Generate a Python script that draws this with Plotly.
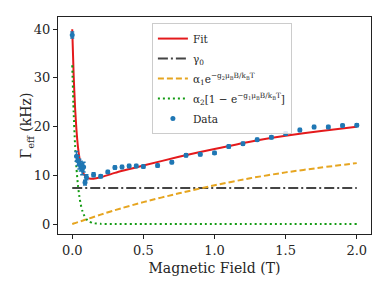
import plotly.graph_objects as go

# Data points
field_data = [0, 0.03, 0.04, 0.05, 0.06, 0.07, 0.08, 0.09, 0.1, 0.15, 0.2, 0.25, 0.3, 0.35, 0.4,
              0.45, 0.5, 0.6, 0.7, 0.8, 0.9, 1.0, 1.1, 1.2, 1.3, 1.4, 1.5, 1.6, 1.7, 1.8, 1.9, 2.0]
gamma_data = [38.8, 13.9, 13.0, 12.3, 11.9, 11.3, 11.7, 8.5, 9.6, 10.1, 9.8, 10.7, 11.6, 11.7, 11.9,
              11.9, 11.8, 12.0, 12.7, 14.1, 14.3, 14.6, 15.9, 16.5, 17.3, 17.8, 18.6, 19.3, 19.9, 19.9, 20.2, 20.3]
gamma_err = [0.6, 1.0, 1.0, 1.0, 1.0, 1.2, 1.0, 0.5, 0.5, 0.4, 0.3, 0.3, 0.3, 0.3, 0.3,
             0.3, 0.3, 0.3, 0.3, 0.3, 0.3, 0.3, 0.3, 0.3, 0.3, 0.3, 0.3, 0.3, 0.3, 0.3, 0.3, 0.3]

# Curves
curve_x = [0, 0.01, 0.02, 0.03, 0.04, 0.05, 0.06, 0.07, 0.08, 0.1, 0.12, 0.15, 0.2, 0.3,
           0.5, 0.75, 1.0, 1.25, 1.5, 1.75, 2.0]
fit_y = [40.0, 30.6, 23.9, 19.2, 15.9, 13.7, 12.1, 11.0, 10.3, 9.55, 9.35, 9.3, 9.6, 10.5,
         12.0, 13.8, 15.4, 16.9, 18.1, 19.1, 19.95]
alpha1_y = [0, 0.1, 0.19, 0.29, 0.38, 0.48, 0.58, 0.67, 0.77, 0.96, 1.15, 1.44, 1.92, 2.85,
            4.5, 6.3, 7.95, 9.4, 10.6, 11.6, 12.5]
alpha2_y = [32.6, 23.0, 16.2, 11.4, 8.0, 5.7, 4.0, 2.8, 2.0, 1.0, 0.5, 0.17, 0.03, 0,
            0, 0, 0, 0, 0, 0, 0]
gamma0_x = [0, 2.0]
gamma0_y = [7.4, 7.4]

x_ticks = [0.0, 0.5, 1.0, 1.5, 2.0]
x_ticklabels = ["0.0", "0.5", "1.0", "1.5", "2.0"]
y_ticks = [0, 10, 20, 30, 40]

FONT = "'DejaVu Serif', 'Liberation Serif', serif"
TXT = "#262626"

fig = go.Figure()
fig.add_trace(go.Scatter(x=curve_x, y=fit_y, mode="lines", name="Fit", legendgroup="a",
                         line=dict(color="#e41a1c", width=2, shape="spline", smoothing=0.6)))
fig.add_trace(go.Scatter(x=gamma0_x, y=gamma0_y, mode="lines", name="γ<sub>0</sub>", legendgroup="b",
                         line=dict(color="#444444", width=2, dash="10px,3px,2px,3px")))
fig.add_trace(go.Scatter(x=curve_x, y=alpha1_y, mode="lines", legendgroup="c",
                         name="α<sub>1</sub>e<sup>−g<sub>2</sub>μ<sub>B</sub>B/k<sub>B</sub>T</sup>",
                         line=dict(color="#e6a520", width=2, dash="6px,3px", shape="spline", smoothing=0.6)))
fig.add_trace(go.Scatter(x=curve_x, y=alpha2_y, mode="lines", legendgroup="d",
                         name="α<sub>2</sub>[1 − e<sup>−g<sub>1</sub>μ<sub>B</sub>B/k<sub>B</sub>T</sup>]",
                         line=dict(color="#129a12", width=2, dash="2px,3px", shape="spline", smoothing=0.6)))
fig.add_trace(go.Scatter(x=field_data, y=gamma_data, mode="markers", name="Data", legendgroup="e",
                         marker=dict(color="#1f77b4", size=5),
                         error_y=dict(type="data", array=gamma_err, visible=True,
                                      color="#1f77b4", thickness=1.5, width=2)))

axis_common = dict(showgrid=False, zeroline=False, showline=True, linecolor="#222222",
                   linewidth=1.2, mirror=True, ticks="outside", ticklen=4, tickwidth=1,
                   tickcolor="#222222", tickfont=dict(family=FONT, size=13, color=TXT))

# page body has an 8px margin, so the figure is drawn 8px right/down
fig.update_layout(
    width=381, height=284,
    margin=dict(l=50, r=18, t=9, b=58),
    paper_bgcolor="white", plot_bgcolor="white",
    font=dict(family=FONT, size=13, color=TXT),
    showlegend=True,
    legend=dict(x=0.30, y=0.972, xanchor="left", yanchor="top",
                bgcolor="rgba(255,255,255,0.85)", bordercolor="#cccccc", borderwidth=1,
                font=dict(family=FONT, size=10.5, color=TXT),
                tracegroupgap=1, itemwidth=30),
    xaxis=dict(range=[-0.1, 2.1], tickvals=x_ticks, ticktext=x_ticklabels,
               title=dict(text="Magnetic Field (T)", font=dict(family=FONT, size=14, color=TXT), standoff=6),
               **axis_common),
    yaxis=dict(range=[-2.05, 42.5], tickvals=y_ticks, **axis_common),
    annotations=[dict(text="Γ<sub>eff</sub> (kHz)", xref="paper", yref="paper",
                      x=-0.102, y=0.5, xanchor="center", yanchor="middle", textangle=-90,
                      showarrow=False, font=dict(family=FONT, size=14, color=TXT))],
)

fig.write_html("out.html")
